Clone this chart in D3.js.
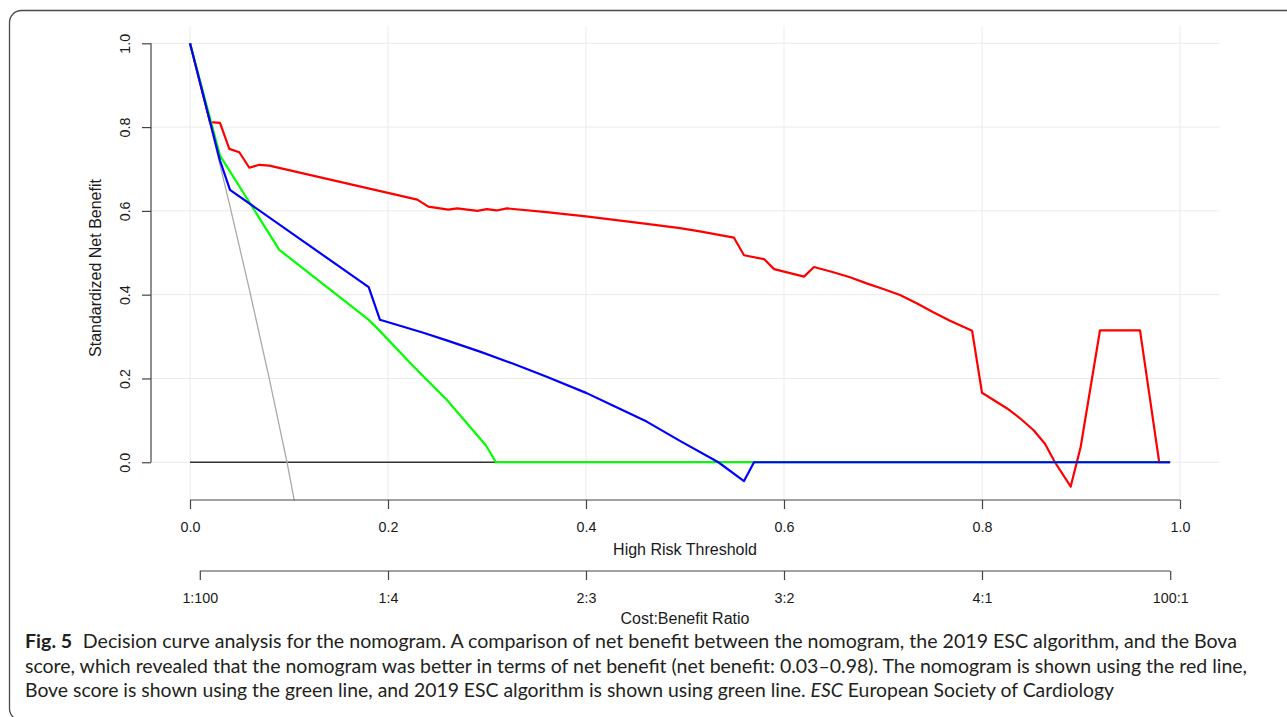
<!DOCTYPE html>
<html>
<head>
<meta charset="utf-8">
<script src="https://cdn.jsdelivr.net/npm/d3@7"></script>
<style>
body{margin:0;background:#fff;}
svg{display:block;}
</style>
</head>
<body>
<div id="chart"></div>
<script>
// data: [threshold, standardized net benefit]
const treatNone = [[0,0],[0.99,0]];
const treatAll = [[0,1],[0.02,0.81],[0.04,0.615],[0.06,0.412],[0.08,0.20],[0.098,0.0],[0.1054,-0.092]];
const nomogram = [[0,1],[0.0202,0.812],[0.0303,0.81],[0.0397,0.748],[0.0498,0.74],[0.0599,0.703],[0.07,0.71],
  [0.0801,0.708],[0.2296,0.627],[0.2407,0.61],[0.2609,0.603],[0.27,0.606],[0.2902,0.6],[0.2997,0.604],
  [0.3098,0.601],[0.32,0.606],[0.36,0.597],[0.4,0.587],[0.4613,0.569],[0.495,0.559],[0.515,0.551],[0.5495,0.536],
  [0.5596,0.494],[0.5798,0.485],[0.59,0.461],[0.6202,0.443],[0.6303,0.466],[0.6498,0.4535],[0.6667,0.4415],
  [0.6835,0.427],[0.7003,0.4136],[0.7172,0.3993],[0.734,0.3795],[0.7508,0.358],[0.7677,0.338],[0.79,0.314],
  [0.8,0.166],[0.825,0.129],[0.8384,0.105],[0.8519,0.077],[0.8636,0.044],[0.8737,0.0],[0.8896,-0.058],
  [0.8997,0.037],[0.9192,0.315],[0.9596,0.315],[0.979,0.0],[0.99,0]];
const bovaScore = [[0,1],[0.0303,0.732],[0.0902,0.507],[0.18,0.341],[0.1919,0.313],[0.2256,0.229],
  [0.2593,0.149],[0.299,0.04],[0.309,0],[0.99,0]];
const escAlgorithm = [[0,1],[0.0303,0.72],[0.0404,0.65],[0.1805,0.418],[0.1919,0.34],[0.2357,0.309],
  [0.2593,0.291],[0.2929,0.264],[0.3266,0.235],[0.3603,0.204],[0.4007,0.165],[0.4276,0.135],[0.4613,0.097],
  [0.4949,0.051],[0.5337,0.0],[0.5596,-0.045],[0.5697,0],[0.99,0]];
const xTicks = [0,0.2,0.4,0.6,0.8,1.0];
const yTicks = [0,0.2,0.4,0.6,0.8,1.0];
const costBenefitLabels = ["1:100","1:4","2:3","3:2","4:1","100:1"];
const captionLines = [
  "Decision curve analysis for the nomogram. A comparison of net benefit between the nomogram, the 2019 ESC algorithm, and the Bova",
  "score, which revealed that the nomogram was better in terms of net benefit (net benefit: 0.03\u20130.98). The nomogram is shown using the red line,",
  "Bove score is shown using the green line, and 2019 ESC algorithm is shown using green line."
];

let width = 1287, height = 717;
let svg = d3.select("#chart").append("svg").attr("width", width).attr("height", height);

// scales (plot region like R, 4% padding)
let x = d3.scaleLinear().domain([-0.04,1.04]).range([150.4,1219.6]);
let y = d3.scaleLinear().domain([-0.092,1.042]).range([500.8,25.7]);

// frame round the figure
svg.append("rect").attr("x",9.5).attr("y",10.5).attr("width",1310).attr("height",710)
  .attr("rx",12).attr("fill","none").attr("stroke","#4a4a4a").attr("stroke-width",1.3);

// grid
let grid = svg.append("g");
grid.selectAll(".vg").data(xTicks).enter().append("line")
  .attr("x1",d=>x(d)).attr("x2",d=>x(d)).attr("y1",y.range()[1]).attr("y2",y.range()[0])
  .attr("stroke","#ebebeb").attr("stroke-width",1);
grid.selectAll(".hg").data(yTicks).enter().append("line")
  .attr("x1",x.range()[0]).attr("x2",x.range()[1]).attr("y1",d=>y(d)).attr("y2",d=>y(d))
  .attr("stroke","#ebebeb").attr("stroke-width",1);

// curves
svg.append("clipPath").attr("id","plotClip").append("rect")
  .attr("x",x.range()[0]).attr("y",y.range()[1])
  .attr("width",x.range()[1]-x.range()[0]).attr("height",y.range()[0]-y.range()[1]);
let line = d3.line().x(d=>x(d[0])).y(d=>y(d[1]));
let curves = svg.append("g").attr("clip-path","url(#plotClip)").attr("fill","none")
  .attr("stroke-linejoin","round");
curves.append("path").datum(treatNone).attr("d",line).attr("stroke","#333").attr("stroke-width",1.3);
curves.append("path").datum(treatAll).attr("d",line).attr("stroke","#aaaaaa").attr("stroke-width",1.3);
curves.append("path").datum(nomogram).attr("d",line).attr("stroke","#ff0000").attr("stroke-width",2.2);
curves.append("path").datum(bovaScore).attr("d",line).attr("stroke","#00ff00").attr("stroke-width",2.2);
curves.append("path").datum(escAlgorithm).attr("d",line).attr("stroke","#0000ff").attr("stroke-width",2.2);

// axes
let axisFont = "'Liberation Sans', Arial, sans-serif";
let axisColor = "#444";
function styleAxis(g){
  g.select(".domain").remove();
  g.selectAll(".tick line").attr("stroke",axisColor).attr("stroke-width",1.2);
  g.selectAll(".tick text").attr("fill","#1a1a1a").style("font-family",axisFont).style("font-size","14.3px");
}
let xAxisY = 500;
let gx = svg.append("g").attr("transform","translate(0,"+xAxisY+")")
  .call(d3.axisBottom(x).tickValues(xTicks).tickFormat(d3.format(".1f")).tickSize(9).tickPadding(13));
styleAxis(gx);
gx.append("line").attr("x1",x(0)).attr("x2",x(1)).attr("stroke",axisColor).attr("stroke-width",1.2);

let cbValues = costBenefitLabels.map(s => {let p = s.split(":").map(Number); return p[0]/(p[0]+p[1]);});
let cbAxisY = 571;
let gcb = svg.append("g").attr("transform","translate(0,"+cbAxisY+")")
  .call(d3.axisBottom(x).tickValues(cbValues).tickFormat((d,i)=>costBenefitLabels[i]).tickSize(9).tickPadding(13));
styleAxis(gcb);
gcb.append("line").attr("x1",x(cbValues[0])).attr("x2",x(cbValues[cbValues.length-1]))
  .attr("stroke",axisColor).attr("stroke-width",1.2);

let gy = svg.append("g").attr("transform","translate(151,0)")
  .call(d3.axisLeft(y).tickValues(yTicks).tickFormat(d3.format(".1f")).tickSize(9));
styleAxis(gy);
gy.selectAll(".tick text").attr("transform","rotate(-90)").attr("x",0).attr("y",-26.5)
  .attr("dy","0.35em").attr("text-anchor","middle");
gy.append("line").attr("y1",y(0)).attr("y2",y(1)).attr("stroke",axisColor).attr("stroke-width",1.2);

// axis titles
svg.append("text").attr("x",x(0.5)).attr("y",549).attr("dy","0.35em").attr("text-anchor","middle")
  .style("font-family",axisFont).style("font-size","16px").attr("fill","#1a1a1a").text("High Risk Threshold");
svg.append("text").attr("x",x(0.5)).attr("y",618).attr("dy","0.35em").attr("text-anchor","middle")
  .style("font-family",axisFont).style("font-size","16px").attr("fill","#1a1a1a").text("Cost:Benefit Ratio");
svg.append("text").attr("transform","translate(95,268) rotate(-90)").attr("dy","0.35em").attr("text-anchor","middle")
  .style("font-family",axisFont).style("font-size","16px").attr("fill","#1a1a1a").text("Standardized Net Benefit");

// caption
let capFont = "Lato, 'Open Sans', sans-serif";
let capBase = [648,672.5,697];
let capEnds = [1237,1247,1114];
let cap = svg.append("g").style("font-family",capFont).style("font-size","18.5px").attr("fill","#231f20");
let t1 = cap.append("text").attr("x",25).attr("y",capBase[0]);
t1.append("tspan").style("font-weight","bold").text("Fig. 5");
t1.append("tspan").attr("dx",10).text(captionLines[0]);
let t2 = cap.append("text").attr("x",25).attr("y",capBase[1]).text(captionLines[1]);
let t3 = cap.append("text").attr("x",25).attr("y",capBase[2]);
t3.append("tspan").text(captionLines[2]+" ");
t3.append("tspan").style("font-style","italic").text("ESC");
t3.append("tspan").text(" European Society of Cardiology");

// squeeze the caption lines to the widths of the original
[t1,t2,t3].forEach((t,i)=>{
  t.attr("textLength",capEnds[i]-25).attr("lengthAdjust","spacingAndGlyphs");
});
</script>
</body>
</html>
